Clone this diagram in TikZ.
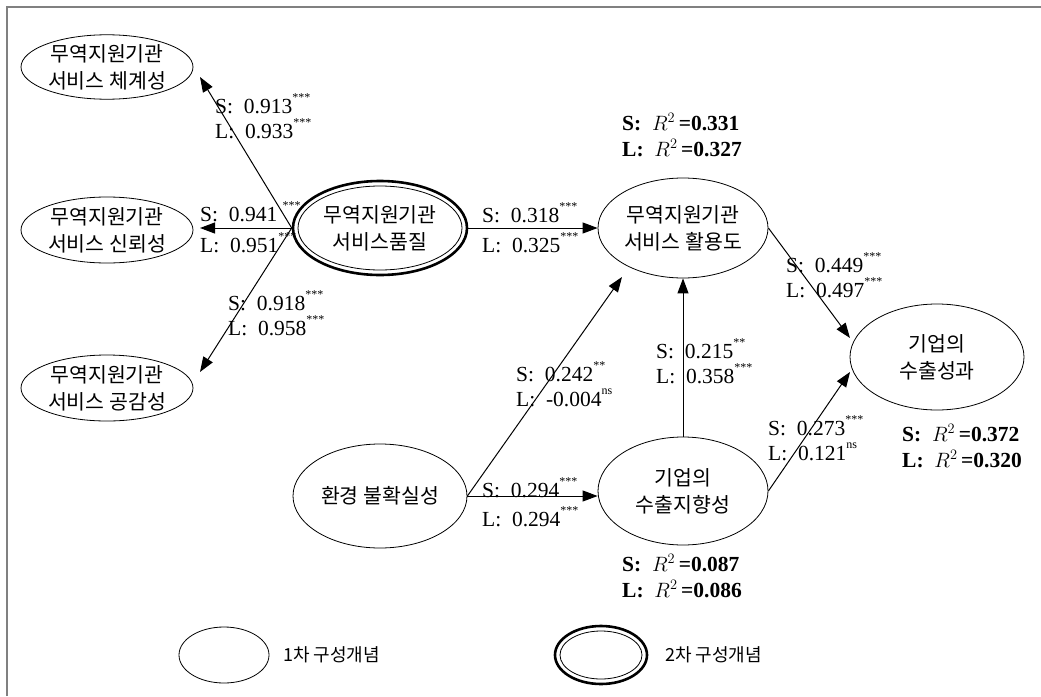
\documentclass[tikz,border=0pt]{standalone}
\usepackage{fontspec}
\setmainfont{Liberation Serif}
\newfontfamily\cjk{Noto Sans CJK KR}
\usetikzlibrary{shapes.geometric,arrows.meta,calc}
\newcommand\sig[1]{\raisebox{0.55em}{\fontsize{12}{12}\selectfont #1}}
\begin{document}
\begin{tikzpicture}[x=1pt,y=-1pt,
 ell/.style={draw, ellipse, line width=0.8pt, inner sep=0pt, font=\cjk\fontsize{20.5}{27}\selectfont, align=center},
 dbl/.style={ell, line width=2.6pt},
 lab/.style={anchor=west, inner sep=0pt, font=\fontsize{21.5}{25}\selectfont, align=left},
 rlab/.style={anchor=west, inner sep=0pt, font=\bfseries\fontsize{21.5}{26}\selectfont, align=left},
 arr/.style={line width=1pt, -{Triangle[length=15pt,width=11pt]}},
 frameline/.style={draw=gray, line width=2pt},
 legtext/.style={anchor=west, inner sep=0pt, font=\cjk\fontsize{18}{18}\selectfont}]
\useasboundingbox (0,0) rectangle (1041,696);
\draw[frameline] (7,696) -- (7,7) -- (1041,7);

% nodes
\node[ell, minimum width=172pt, minimum height=64pt] (sys) at (107,67) {무역지원기관\\서비스 체계성};
\node[ell, minimum width=172pt, minimum height=66pt] (rel) at (107,230) {무역지원기관\\서비스 신뢰성};
\node[ell, minimum width=172pt, minimum height=66pt] (emp) at (107,388) {무역지원기관\\서비스 공감성};
\node[dbl, minimum width=174pt, minimum height=94pt] (qual) at (380,228) {무역지원기관\\서비스품질};
\draw[line width=0.8pt] (qual.center) ellipse[x radius=82pt, y radius=42pt];
\node[ell, minimum width=170pt, minimum height=100pt] (use) at (683,228) {무역지원기관\\서비스 활용도};
\node[ell, minimum width=174pt, minimum height=106pt] (perf) at (937,357) {기업의\\수출성과};
\node[ell, minimum width=174pt, minimum height=104pt] (env) at (380,496) {환경 불확실성};
\node[ell, minimum width=170pt, minimum height=108pt] (exo) at (683,491) {기업의\\수출지향성};

% arrow end points
\coordinate (t1) at (200,77);
\coordinate (t2) at (200,228);
\coordinate (t3) at (200,372);
\coordinate (t5) at (622,277);
\coordinate (t7) at (850,338);
\coordinate (t8) at (850,372);

\draw[arr] (qual.west) -- (t1);
\draw[arr] (qual.west) -- (t2);
\draw[arr] (qual.west) -- (t3);
\draw[arr] (qual.east) -- (use.west);
\draw[arr] (env.east) -- (t5);
\draw[arr] (env.east) -- (env.east -| exo.west);
\draw[arr] (exo.north) -- (exo.north |- use.south);
\draw[arr] (use.east) -- (t7);
\draw[arr] (exo.east) -- (t8);

% path labels
\node[lab] (l1) at (215,116) {S:~ 0.913\sig{***}\\L:~ 0.933\sig{***}};
\node[lab] (l2a) at (200,212) {S:~ 0.941~\sig{***}};
\node[lab] (l2b) at (200,243) {L:~ 0.951\sig{***}};
\node[lab] (l3) at (228,313) {S:~ 0.918\sig{***}\\L:~ 0.958\sig{***}};
\node[lab] (l4a) at (482,213) {S:~ 0.318\sig{***}};
\node[lab] (l4b) at (482,243) {L:~ 0.325\sig{***}};
\node[lab] (l5) at (516,384) {S:~ 0.242\sig{**}\\L:~ -0.004\sig{ns}};
\node[lab] (l6) at (656,361) {S:~ 0.215\sig{**}\\L:~ 0.358\sig{***}};
\node[lab] (l7) at (786,275) {S:~ 0.449\sig{***}\\L:~ 0.497\sig{***}};
\node[lab] (l8) at (768,438) {S:~ 0.273\sig{***}\\L:~ 0.121\sig{ns}};
\node[lab] (l9a) at (482,488) {S:~ 0.294\sig{***}};
\node[lab] (l9b) at (482,517) {L:~ 0.294\sig{***}};

% R squared
\node[rlab] (r1) at (622,135) {S:~ $R^2$\,=0.331\\L:~ $R^2$\,=0.327};
\node[rlab] (r2) at (902,446) {S:~ $R^2$\,=0.372\\L:~ $R^2$\,=0.320};
\node[rlab] (r3) at (622,576) {S:~ $R^2$\,=0.087\\L:~ $R^2$\,=0.086};

% legend
\node[ell, minimum width=90pt, minimum height=56pt] (lg1) at (224,655) {};
\node[legtext] (lt1) at (283,655) {1차 구성개념};
\node[dbl, minimum width=92pt, minimum height=58pt] (lg2) at (601,655) {};
\draw[line width=0.8pt] (lg2.center) ellipse[x radius=41pt, y radius=24pt];
\node[legtext] (lt2) at (665,655) {2차 구성개념};
\end{tikzpicture}
\end{document}
